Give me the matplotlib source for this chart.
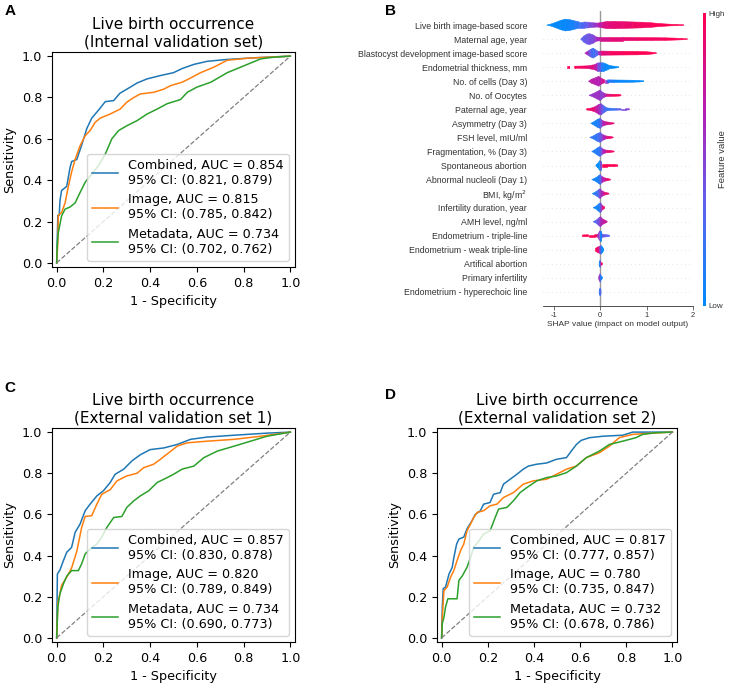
import matplotlib
matplotlib.use("Agg")
import matplotlib.pyplot as plt
import numpy as np
from matplotlib.collections import PolyCollection
from matplotlib.colors import LinearSegmentedColormap, Normalize
from matplotlib.cm import ScalarMappable

plt.rcParams["font.family"] = ["DejaVu Sans"]
FS = 9.15

# ---- ROC data (fpr, tpr) ----
# A: internal validation set
a_comb_fpr = [0, 0.005, 0.011, 0.014, 0.021, 0.043, 0.057, 0.064, 0.086, 0.107, 0.129, 0.15, 0.18, 0.208, 0.244, 0.27, 0.315, 0.344, 0.387, 0.444, 0.5, 0.537, 0.587, 0.645, 0.73, 0.845, 1.0]
a_comb_tpr = [0, 0.23, 0.23, 0.30, 0.35, 0.37, 0.46, 0.49, 0.50, 0.57, 0.65, 0.70, 0.74, 0.78, 0.785, 0.82, 0.85, 0.87, 0.89, 0.906, 0.92, 0.94, 0.96, 0.975, 0.984, 0.992, 1.0]
a_img_fpr = [0, 0.005, 0.007, 0.021, 0.036, 0.05, 0.064, 0.079, 0.1, 0.122, 0.143, 0.165, 0.186, 0.229, 0.272, 0.3, 0.33, 0.358, 0.415, 0.458, 0.487, 0.537, 0.566, 0.616, 0.673, 0.73, 0.817, 1.0]
a_img_tpr = [0, 0.10, 0.23, 0.243, 0.29, 0.37, 0.44, 0.50, 0.566, 0.615, 0.64, 0.68, 0.70, 0.72, 0.744, 0.777, 0.80, 0.817, 0.825, 0.84, 0.857, 0.874, 0.89, 0.92, 0.947, 0.98, 0.99, 1.0]
a_meta_fpr = [0, 0.003, 0.007, 0.021, 0.036, 0.057, 0.079, 0.1, 0.122, 0.143, 0.179, 0.208, 0.236, 0.265, 0.3, 0.344, 0.387, 0.43, 0.473, 0.53, 0.559, 0.6, 0.66, 0.73, 0.788, 0.874, 0.93, 1.0]
a_meta_tpr = [0, 0.10, 0.146, 0.227, 0.26, 0.27, 0.29, 0.34, 0.39, 0.42, 0.47, 0.526, 0.60, 0.64, 0.663, 0.688, 0.72, 0.744, 0.77, 0.79, 0.825, 0.85, 0.874, 0.92, 0.947, 0.987, 0.995, 1.0]

# C: external validation set 1
c_comb_fpr = [0, 0.003, 0.014, 0.029, 0.043, 0.064, 0.079, 0.1, 0.122, 0.143, 0.172, 0.2, 0.229, 0.25, 0.287, 0.322, 0.358, 0.4, 0.458, 0.516, 0.573, 0.645, 0.76, 0.9, 1.0]
c_comb_tpr = [0, 0.31, 0.33, 0.376, 0.416, 0.44, 0.513, 0.553, 0.618, 0.65, 0.69, 0.715, 0.755, 0.795, 0.82, 0.86, 0.89, 0.915, 0.923, 0.94, 0.965, 0.976, 0.985, 0.995, 1.0]
c_img_fpr = [0, 0.005, 0.014, 0.021, 0.043, 0.064, 0.086, 0.107, 0.122, 0.15, 0.172, 0.193, 0.229, 0.258, 0.3, 0.344, 0.372, 0.415, 0.444, 0.48, 0.516, 0.559, 0.645, 0.76, 0.874, 1.0]
c_img_tpr = [0, 0.17, 0.215, 0.255, 0.295, 0.34, 0.42, 0.537, 0.59, 0.594, 0.65, 0.698, 0.72, 0.763, 0.787, 0.80, 0.827, 0.844, 0.868, 0.90, 0.932, 0.948, 0.956, 0.965, 0.98, 1.0]
c_meta_fpr = [0, 0.005, 0.014, 0.029, 0.043, 0.064, 0.093, 0.107, 0.122, 0.143, 0.172, 0.193, 0.215, 0.244, 0.279, 0.3, 0.33, 0.358, 0.394, 0.43, 0.473, 0.5, 0.537, 0.587, 0.63, 0.688, 0.76, 0.83, 0.9, 1.0]
c_meta_tpr = [0, 0.15, 0.215, 0.263, 0.30, 0.327, 0.327, 0.36, 0.408, 0.432, 0.456, 0.49, 0.537, 0.585, 0.59, 0.634, 0.666, 0.69, 0.715, 0.755, 0.779, 0.795, 0.82, 0.835, 0.876, 0.908, 0.932, 0.956, 0.98, 1.0]

# D: external validation set 2
d_comb_fpr = [0, 0.003, 0.007, 0.017, 0.032, 0.046, 0.053, 0.065, 0.075, 0.096, 0.11, 0.132, 0.146, 0.168, 0.182, 0.21, 0.225, 0.254, 0.268, 0.297, 0.326, 0.354, 0.376, 0.412, 0.455, 0.498, 0.541, 0.562, 0.584, 0.605, 0.641, 0.699, 0.785, 0.828, 1.0]
d_comb_tpr = [0, 0.15, 0.24, 0.247, 0.31, 0.343, 0.39, 0.456, 0.48, 0.49, 0.53, 0.57, 0.60, 0.618, 0.65, 0.658, 0.698, 0.706, 0.747, 0.771, 0.795, 0.82, 0.835, 0.844, 0.85, 0.868, 0.876, 0.908, 0.94, 0.96, 0.973, 0.98, 0.985, 1.0, 1.0]
d_img_fpr = [0, 0.003, 0.01, 0.024, 0.039, 0.053, 0.067, 0.082, 0.096, 0.11, 0.125, 0.139, 0.154, 0.182, 0.21, 0.24, 0.268, 0.311, 0.354, 0.397, 0.455, 0.498, 0.541, 0.584, 0.627, 0.684, 0.727, 0.77, 0.828, 0.914, 1.0]
d_img_tpr = [0, 0.10, 0.23, 0.247, 0.295, 0.327, 0.376, 0.424, 0.456, 0.52, 0.553, 0.585, 0.61, 0.618, 0.642, 0.65, 0.682, 0.706, 0.747, 0.763, 0.771, 0.795, 0.82, 0.835, 0.876, 0.90, 0.932, 0.973, 0.989, 0.995, 1.0]
d_meta_fpr = [0, 0.003, 0.01, 0.017, 0.027, 0.067, 0.075, 0.089, 0.11, 0.125, 0.139, 0.161, 0.182, 0.21, 0.232, 0.247, 0.283, 0.311, 0.34, 0.369, 0.412, 0.455, 0.498, 0.541, 0.584, 0.627, 0.684, 0.727, 0.785, 0.842, 0.871, 0.928, 1.0]
d_meta_tpr = [0, 0.07, 0.10, 0.15, 0.19, 0.19, 0.28, 0.30, 0.343, 0.39, 0.44, 0.47, 0.505, 0.52, 0.585, 0.626, 0.634, 0.666, 0.706, 0.73, 0.763, 0.779, 0.787, 0.803, 0.835, 0.876, 0.908, 0.94, 0.956, 0.973, 0.989, 0.997, 1.0]

roc_labels = {
    "A": ["Combined, AUC = 0.854\n95% CI: (0.821, 0.879)",
          "Image, AUC = 0.815\n95% CI: (0.785, 0.842)",
          "Metadata, AUC = 0.734\n95% CI: (0.702, 0.762)"],
    "C": ["Combined, AUC = 0.857\n95% CI: (0.830, 0.878)",
          "Image, AUC = 0.820\n95% CI: (0.789, 0.849)",
          "Metadata, AUC = 0.734\n95% CI: (0.690, 0.773)"],
    "D": ["Combined, AUC = 0.817\n95% CI: (0.777, 0.857)",
          "Image, AUC = 0.780\n95% CI: (0.735, 0.847)",
          "Metadata, AUC = 0.732\n95% CI: (0.678, 0.786)"],
}
roc_titles = {
    "A": "Live birth occurrence\n(Internal validation set)",
    "C": "Live birth occurrence\n(External validation set 1)",
    "D": "Live birth occurrence\n(External validation set 2)",
}

# ---- SHAP summary (top to bottom): envelope knots x, half height, feature value ----
features = [
    "Live birth image-based score", "Maternal age, year",
    "Blastocyst development image-based score", "Endometrial thickness, mm",
    "No. of cells (Day 3)", "No. of Oocytes", "Paternal age, year",
    "Asymmetry (Day 3)", "FSH level, mIU/ml", "Fragmentation, % (Day 3)",
    "Spontaneous abortion", "Abnormal nucleoli (Day 1)", "BMI, kg/m$^2$",
    "Infertility duration, year", "AMH level, ng/ml", "Endometrium - triple-line",
    "Endometrium - weak triple-line", "Artifical abortion", "Primary infertility",
    "Endometrium - hyperechoic line",
]
shap_x = [
    [-1.15, -1.05, -0.95, -0.85, -0.75, -0.65, -0.55, -0.45, -0.35, -0.25, -0.15, -0.05, 0.05, 0.15, 0.3, 0.5, 0.7, 0.9, 1.1, 1.3, 1.5, 1.65, 1.8],
    [-0.42, -0.35, -0.28, -0.22, -0.15, -0.08, 0.0, 0.2, 0.5, 0.8, 1.1, 1.4, 1.6, 1.75, 1.88],
    [-0.33, -0.26, -0.2, -0.15, -0.1, -0.04, 0.02, 0.2, 0.5, 0.8, 1.0, 1.1, 1.21],
    [-0.71, -0.67, -0.67, -0.55, -0.55, -0.4, -0.25, -0.12, -0.05, 0.02, 0.08, 0.14, 0.2, 0.28, 0.4],
    [-0.25, -0.18, -0.1, -0.03, 0.03, 0.1, 0.16, 0.3, 0.5, 0.7, 0.85, 0.94],
    [-0.24, -0.15, -0.07, 0.0, 0.06, 0.12, 0.2, 0.3, 0.4, 0.45],
    [-0.29, -0.2, -0.1, -0.03, 0.02, 0.08, 0.15, 0.25, 0.35, 0.45, 0.55, 0.63],
    [-0.2, -0.12, -0.05, 0.0, 0.05, 0.12, 0.2, 0.3],
    [-0.22, -0.14, -0.06, 0.0, 0.06, 0.13, 0.2, 0.28],
    [-0.18, -0.1, -0.04, 0.0, 0.05, 0.12, 0.2, 0.3],
    [-0.09, -0.05, -0.01, 0.01, 0.03, 0.15, 0.3, 0.38],
    [-0.18, -0.1, -0.03, 0.0, 0.04, 0.1, 0.16, 0.22],
    [-0.17, -0.1, -0.03, 0.0, 0.04, 0.1, 0.19],
    [-0.15, -0.08, -0.02, 0.01, 0.05, 0.1],
    [-0.15, -0.08, -0.02, 0.01, 0.06, 0.15],
    [-0.38, -0.25, -0.12, -0.05, -0.01, 0.01, 0.05, 0.12, 0.2],
    [-0.1, -0.05, -0.01, 0.02, 0.05, 0.08],
    [-0.02, 0.0, 0.02, 0.05],
    [-0.03, 0.0, 0.02, 0.05],
    [-0.02, 0.0, 0.02],
]
shap_h = [
    [0.0, 0.08, 0.2, 0.33, 0.42, 0.38, 0.3, 0.22, 0.22, 0.2, 0.16, 0.14, 0.2, 0.25, 0.26, 0.24, 0.22, 0.2, 0.16, 0.1, 0.06, 0.04, 0.02],
    [0.0, 0.22, 0.36, 0.38, 0.3, 0.15, 0.12, 0.12, 0.12, 0.11, 0.1, 0.09, 0.07, 0.05, 0.02],
    [0.0, 0.15, 0.28, 0.35, 0.25, 0.12, 0.15, 0.14, 0.13, 0.12, 0.1, 0.07, 0.03],
    [0.07, 0.07, 0.0, 0.0, 0.07, 0.08, 0.1, 0.18, 0.3, 0.32, 0.3, 0.22, 0.12, 0.08, 0.03],
    [0.0, 0.15, 0.25, 0.35, 0.2, 0.1, 0.1, 0.09, 0.08, 0.07, 0.05, 0.03],
    [0.0, 0.12, 0.25, 0.38, 0.2, 0.1, 0.08, 0.07, 0.06, 0.03],
    [0.05, 0.08, 0.2, 0.35, 0.4, 0.25, 0.1, 0.07, 0.06, 0.05, 0.05, 0.04],
    [0.0, 0.15, 0.3, 0.35, 0.2, 0.12, 0.08, 0.03],
    [0.0, 0.12, 0.28, 0.35, 0.2, 0.1, 0.08, 0.03],
    [0.0, 0.15, 0.3, 0.35, 0.2, 0.1, 0.08, 0.03],
    [0.05, 0.15, 0.35, 0.35, 0.08, 0.08, 0.07, 0.05],
    [0.0, 0.12, 0.28, 0.35, 0.22, 0.12, 0.08, 0.03],
    [0.0, 0.12, 0.28, 0.35, 0.2, 0.1, 0.03],
    [0.0, 0.12, 0.3, 0.35, 0.15, 0.05],
    [0.0, 0.12, 0.3, 0.35, 0.18, 0.04],
    [0.06, 0.07, 0.07, 0.1, 0.35, 0.35, 0.1, 0.08, 0.05],
    [0.1, 0.2, 0.25, 0.3, 0.2, 0.05],
    [0.15, 0.25, 0.1, 0.05],
    [0.1, 0.3, 0.15, 0.05],
    [0.15, 0.28, 0.15],
]
shap_c = [
    [0.0, 0.0, 0.02, 0.03, 0.03, 0.05, 0.1, 0.2, 0.3, 0.4, 0.5, 0.6, 0.8, 0.85, 0.88, 0.9, 0.92, 0.95, 0.97, 1, 1, 1, 1],
    [0.3, 0.35, 0.4, 0.42, 0.45, 0.55, 0.75, 0.85, 0.9, 0.92, 0.95, 0.97, 1, 1, 1],
    [0.7, 0.6, 0.3, 0.2, 0.25, 0.4, 0.8, 0.95, 0.97, 1, 1, 1, 1],
    [1, 1, 1, 1, 1, 0.95, 0.9, 0.8, 0.6, 0.2, 0.05, 0.02, 0.0, 0.0, 0.0],
    [0.7, 0.7, 0.7, 0.65, 0.7, 0.9, 0.2, 0.05, 0.03, 0.02, 0.0, 0.0],
    [0.55, 0.55, 0.6, 0.55, 0.45, 0.7, 0.9, 0.95, 1, 1],
    [1, 0.95, 0.8, 0.65, 0.5, 0.3, 0.2, 0.15, 0.3, 0.4, 0.5, 0.5],
    [0.05, 0.05, 0.1, 0.2, 0.6, 0.75, 0.85, 0.9],
    [0.2, 0.15, 0.2, 0.3, 0.5, 0.8, 0.9, 0.95],
    [0.1, 0.1, 0.15, 0.2, 0.5, 0.8, 0.9, 0.95],
    [0.0, 0.0, 0.0, 0.1, 1, 1, 1, 1],
    [0.05, 0.05, 0.1, 0.2, 0.5, 0.8, 0.9, 0.95],
    [0.1, 0.1, 0.3, 0.5, 0.6, 0.85, 0.95],
    [0.05, 0.05, 0.1, 0.2, 0.8, 1.0],
    [0.2, 0.3, 0.5, 0.55, 0.7, 0.8],
    [1, 1, 1, 0.9, 0.1, 0.0, 0.2, 0.6, 0.05],
    [1, 0.95, 0.8, 0.1, 0.0, 0.0],
    [0.0, 0.0, 0.9, 1],
    [0.9, 0.3, 0.1, 0.0],
    [0.3, 0.1, 0.5],
]

shap_cmap = LinearSegmentedColormap.from_list(
    "shap_red_blue", ["#008bfb", "#5b63f0", "#b41fb4", "#ff0052"])

W, H = 733, 686
fig = plt.figure(figsize=(W / 100, H / 100), dpi=100)


def px_axes(left, top, right, bottom):
    return fig.add_axes([left / W, 1 - bottom / H, (right - left) / W, (bottom - top) / H])


def roc_panel(ax, key, curves):
    colors = ["tab:blue", "tab:orange", "tab:green"]
    for (fpr, tpr), lab, col in zip(curves, roc_labels[key], colors):
        ax.plot(fpr, tpr, color=col, lw=1.1, label=lab)
    ax.plot([0, 1], [0, 1], ls="--", color="grey", lw=0.9)
    ax.set_xlim(-0.02, 1.02)
    ax.set_ylim(-0.02, 1.02)
    ax.set_xticks([0, 0.2, 0.4, 0.6, 0.8, 1.0])
    ax.set_yticks([0, 0.2, 0.4, 0.6, 0.8, 1.0])
    ax.tick_params(labelsize=FS)
    ax.set_xlabel("1 - Specificity", fontsize=FS)
    ax.set_ylabel("Sensitivity", fontsize=FS)
    ax.set_title(roc_titles[key], fontsize=11, pad=4)
    ax.legend(loc="lower right", fontsize=FS)


ax_a = px_axes(52, 52, 295, 267)
roc_panel(ax_a, "A", [(a_comb_fpr, a_comb_tpr), (a_img_fpr, a_img_tpr), (a_meta_fpr, a_meta_tpr)])
ax_c = px_axes(52, 428, 295, 642)
roc_panel(ax_c, "C", [(c_comb_fpr, c_comb_tpr), (c_img_fpr, c_img_tpr), (c_meta_fpr, c_meta_tpr)])
ax_d = px_axes(437, 428, 677, 642)
roc_panel(ax_d, "D", [(d_comb_fpr, d_comb_tpr), (d_img_fpr, d_img_tpr), (d_meta_fpr, d_meta_tpr)])

# ---- SHAP beeswarm-like summary ----
ax_b = px_axes(543, 11, 693, 306)
n = len(features)
verts, cols = [], []
for i in range(n):
    y = n - 1 - i
    xs, hs, cs = shap_x[i], shap_h[i], shap_c[i]
    for k in range(len(xs) - 1):
        if hs[k] == 0 and hs[k + 1] == 0:
            continue
        verts.append([(xs[k], y - hs[k]), (xs[k + 1], y - hs[k + 1]),
                      (xs[k + 1], y + hs[k + 1]), (xs[k], y + hs[k])])
        cols.append(shap_cmap((cs[k] + cs[k + 1]) / 2))
ax_b.add_collection(PolyCollection(verts, facecolors=cols, edgecolors=cols, linewidths=0.4))
for y in range(n):
    ax_b.axhline(y, color="#cccccc", lw=0.5, dashes=(1, 5), zorder=-1)
ax_b.axvline(0, color="#999999", lw=1, zorder=-1)
ax_b.set_xlim(-1.23, 2.0)
ax_b.set_ylim(-1, n)
ax_b.set_yticks(range(n))
ax_b.set_yticklabels(features[::-1], fontsize=6.3, color="#333333", family="Liberation Sans")
ax_b.tick_params("y", length=0, pad=11.5)
ax_b.set_xticks([-1, 0, 1, 2])
ax_b.set_xticklabels(["-1", "0", "1", "2"], family="Liberation Sans")
ax_b.tick_params("x", labelsize=5.4, color="#333333", labelcolor="#333333", length=3, width=0.5, pad=1.5)
for s in ["left", "right", "top"]:
    ax_b.spines[s].set_visible(False)
ax_b.spines["bottom"].set_color("#333333")
ax_b.spines["bottom"].set_linewidth(0.6)
ax_b.set_xlabel("SHAP value (impact on model output)", fontsize=6.0, color="#333333",
                family="Liberation Sans", labelpad=1)

cax = px_axes(703, 13, 706, 306)
cb = fig.colorbar(ScalarMappable(norm=Normalize(0, 1), cmap=shap_cmap), cax=cax)
cb.set_ticks([0, 1])
cb.set_ticklabels(["Low", "High"])
cb.outline.set_visible(False)
cax.tick_params(length=0, labelsize=5.8, pad=2)
for t in cax.get_yticklabels():
    t.set_family("Liberation Sans")
    t.set_color("#333333")
cb.set_label("Feature value", fontsize=6.8, family="Liberation Sans", color="#333333", labelpad=-5)

# panel letters
for letter, x, y in [("A", 10, 11), ("B", 391, 11), ("C", 10, 388), ("D", 391, 395)]:
    fig.text(x / W, 1 - y / H, letter, fontsize=11, fontweight="bold",
             family="Liberation Sans", ha="center", va="center")

fig.savefig("out.png", dpi=100)
